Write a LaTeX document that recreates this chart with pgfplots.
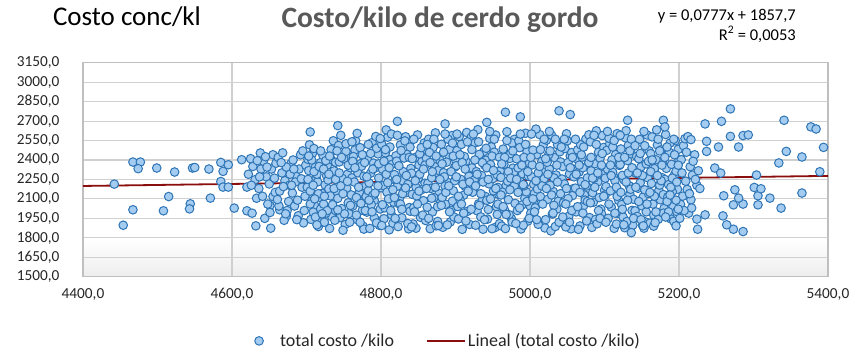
\documentclass[border=0pt]{standalone}
\usepackage{pgfplots}
\pgfplotsset{compat=1.18}
\usepackage{fontspec}
\setmainfont{Carlito}
\definecolor{ptfill}{HTML}{A4CBF0}
\definecolor{ptedge}{HTML}{2E75B6}
\definecolor{trend}{HTML}{8B0E0E}
\definecolor{gridc}{HTML}{D0D0D0}
\definecolor{framec}{HTML}{BFBFBF}
\definecolor{titlec}{HTML}{595959}
\definecolor{textc}{HTML}{262626}
\pgfdeclareverticalshading{bgshade}{100bp}{color(0bp)=(black!7); color(25bp)=(black!7); color(34bp)=(white); color(100bp)=(white)}
\pgfplotsset{trendleg/.style={legend image code/.code={\draw[##1] (0pt,0pt) -- (38pt,0pt);}},
 scatleg/.style={legend image code/.code={\path[draw=none,fill=none] (0pt,0pt) -- (38pt,0pt); \draw[mark repeat=2,mark phase=2,##1] plot coordinates {(0pt,0pt) (19pt,0pt) (38pt,0pt)};}}}
\begin{document}
\begin{tikzpicture}
\begin{axis}[
 name=ax, scale only axis, width=745pt, height=214pt,
 xmin=4400, xmax=5400, ymin=1500, ymax=3150,
 xtick={4400,4600,...,5400}, ytick={1500,1650,...,3150},
 grid=major, major grid style={gridc, line width=1.1pt},
 axis line style={framec, line width=1.4pt},
 tick style={draw=none},
 axis background/.style={shading=bgshade},
 ticklabel style={font=\fontsize{15.3}{18}\selectfont, text=textc},
 xticklabel style={yshift=-8pt,/pgf/number format/.cd, use comma, fixed, fixed zerofill, precision=1, 1000 sep={}, assume math mode=true},
 yticklabel style={xshift=-20pt,/pgf/number format/.cd, use comma, fixed, fixed zerofill, precision=1, 1000 sep={}, assume math mode=true},
 legend style={at={(0.4805,-0.3)}, anchor=center, draw=none, fill=none, legend columns=2, font=\fontsize{18}{21}\selectfont, text=textc, /tikz/every even column/.append style={column sep=30pt}},
 legend cell align=left,
]
\addplot[only marks, mark=*, mark size=4.3pt, mark options={fill=ptfill, draw=ptedge, line width=1pt}, scatleg] coordinates {
(4442,2214) (4454,1897) (4467,2384) (4477,2384) (4474,2333) (4467,2016) (4499,2338) (4515,2118) (4508,2008) (4523,2307) (4544,2062) (4543,2023) (4547,2338) (4550,2342) (4569,2330) (4571,2106) (4585,2381) (4588,2312) (4585,2234) (4588,2191) (4595,2191) (4595,2363) (4603,2029) (4620,2008) (4632,1892) (4652,1874) (4613,2402) (4620,2191) (4638,2454) (4651,2049) (4664,2016) (4673,1969) (4655,2118) (4705,2616) (4742,2665)
(4622,2290) (4628,2350) (4625,2410) (4631,2248) (4636,2180) (4639,2330) (4633,2105) (4627,1990)
(4642,2390) (4646,2270) (4650,2215) (4655,2440) (4648,2060) (4658,2150) (4653,2330) (4644,1950) (4659,2375) (4651,1995)
(4662,2420) (4667,2300) (4671,2240) (4664,2160) (4676,2080) (4679,2370) (4670,1935) (4674,2010) (4668,2455) (4677,2205) (4663,2045) (4673,2345)
(4682,2400) (4686,2275) (4690,2330) (4694,2190) (4698,2120) (4684,2045) (4689,1970) (4696,1915) (4692,2440) (4699,2360) (4685,2230) (4697,2010) (4681,2145)
(4626,2205) (4634,2395) (4641,2120) (4647,2345) (4657,2260) (4661,2095) (4666,2380) (4672,1985) (4678,2290) (4683,2330) (4688,2090) (4693,2255) (4695,2470) (4687,1940) (4680,2205) (4669,2195) (4645,2425) (4637,2270)
(4703,2318) (4716,1887) (4708,2452) (4711,2046) (4701,2190) (4719,2380) (4706,1942) (4713,2265) (4704,2517) (4718,2112) (4709,1998) (4702,2405) (4715,2231) (4707,2084) (4712,2345) (4717,1916) (4705,2160) (4710,2488) (4714,2290) (4719,2022)
(4725,2208) (4731,1872) (4722,2436) (4738,2097) (4728,2361) (4734,1963) (4721,2142) (4736,2548) (4727,2278) (4739,2010) (4733,2404) (4724,1920) (4730,2177) (4737,2316) (4723,2060) (4735,2470) (4729,2245) (4726,1990) (4732,2123) (4739,2382)
(4744,2385) (4752,1903) (4741,2156) (4758,2437) (4747,2025) (4755,2290) (4749,1858) (4743,2512) (4756,2070) (4751,2220) (4745,1955) (4759,2340) (4742,2104) (4753,2466) (4748,2258) (4757,1986) (4746,2590) (4754,2183) (4750,2410) (4760,2131)
(4762,2044) (4770,2331) (4776,1889) (4765,2477) (4779,2198) (4768,1940) (4773,2372) (4761,2262) (4778,2093) (4766,2548) (4771,2150) (4775,2012) (4763,2426) (4769,2301) (4777,1867) (4764,2230) (4772,2495) (4780,2118) (4767,1975) (4774,2352)
(4782,2409) (4791,2087) (4785,1872) (4797,2261) (4788,2534) (4783,2163) (4795,1933) (4790,2376) (4799,2022) (4786,2298) (4793,2581) (4781,1998) (4796,2447) (4789,2127) (4784,2223) (4798,1896) (4792,2338) (4787,2055) (4794,2490) (4800,2186)
(4803,2203) (4811,1861) (4806,2455) (4817,2075) (4802,2329) (4814,1978) (4809,2576) (4819,2246) (4805,2031) (4812,2402) (4816,1912) (4808,2152) (4801,2521) (4818,2287) (4810,2100) (4804,1947) (4815,2367) (4807,2632) (4813,2010) (4820,2432)
(4823,1886) (4831,2277) (4826,2516) (4838,2033) (4822,2198) (4835,2444) (4828,1954) (4840,2334) (4825,2107) (4833,2579) (4829,2240) (4837,1869) (4821,2391) (4834,2148) (4827,2473) (4839,2005) (4830,2310) (4824,2063) (4836,2212) (4832,2547)
(4842,2135) (4856,2478) (4847,1874) (4851,2360) (4844,2032) (4859,2221) (4849,2593) (4853,1958) (4841,2298) (4857,2086) (4846,2420) (4854,2170) (4843,1907) (4858,2531) (4850,2258) (4845,2000) (4855,2389) (4848,2123) (4852,2447) (4860,1933)
(4861,2412) (4869,1999) (4875,2287) (4864,2560) (4878,2142) (4866,1870) (4872,2348) (4880,2078) (4863,2220) (4870,2497) (4876,1926) (4867,2181) (4873,2609) (4862,2036) (4879,2399) (4868,2263) (4874,1892) (4865,2458) (4877,2320) (4871,2110)
(4884,2302) (4893,1922) (4881,2521) (4897,2163) (4887,2059) (4891,2436) (4883,1881) (4899,2345) (4889,2229) (4895,2588) (4882,2111) (4894,2012) (4888,2383) (4898,1960) (4885,2270) (4892,2482) (4896,2083) (4886,2199) (4890,2560) (4900,2403)
(4903,2041) (4914,2391) (4907,2251) (4919,1903) (4902,2472) (4911,2128) (4905,2580) (4917,2320) (4909,1865) (4913,2196) (4901,2356) (4916,2004) (4908,2520) (4920,2163) (4904,1945) (4912,2426) (4918,2274) (4906,2094) (4915,2612) (4910,2213)
(4922,2339) (4931,2062) (4927,1897) (4938,2465) (4924,2183) (4935,2280) (4921,2574) (4940,2119) (4929,2008) (4933,2413) (4925,2245) (4937,1866) (4926,2531) (4939,2360) (4923,2151) (4934,1961) (4930,2634) (4928,2310) (4936,2087) (4932,2443)
(4945,2216) (4953,1879) (4941,2398) (4958,2134) (4948,2501) (4955,2040) (4943,1944) (4960,2315) (4950,2256) (4946,2567) (4957,2189) (4942,2089) (4952,2460) (4959,1909) (4947,2365) (4954,2592) (4944,2018) (4956,2285) (4951,2162) (4949,2430)
(4964,2484) (4971,2094) (4977,2337) (4962,1890) (4968,2202) (4979,2559) (4966,2011) (4973,2412) (4961,2265) (4975,1948) (4969,2618) (4963,2151) (4978,2301) (4967,1871) (4974,2449) (4980,2065) (4965,2366) (4970,2236) (4976,2531) (4972,1978)
(4983,2010) (4990,2293) (4996,2465) (4981,2187) (4988,1868) (4999,2375) (4985,2548) (4993,2105) (4987,2233) (4997,1929) (4982,2409) (4994,2606) (4989,2052) (4998,2274) (4984,2339) (4991,1897) (4995,2154) (4986,2495) (4992,2201) (5000,2046)
(5003,2362) (5012,1921) (5006,2143) (5018,2520) (5002,2270) (5015,2068) (5009,2441) (5020,1876) (5005,2212) (5013,2596) (5017,2310) (5001,1990) (5010,2176) (5016,2389) (5007,2031) (5019,2256) (5004,2476) (5011,1904) (5014,2118) (5008,2638)
(5024,2097) (5033,2418) (5028,1853) (5039,2235) (5022,2553) (5036,2020) (5026,2330) (5040,2463) (5031,2158) (5021,1940) (5035,2284) (5029,2591) (5038,2082) (5023,2382) (5034,1887) (5027,2205) (5037,2517) (5030,1983) (5025,2441) (5032,2262)
(5043,2253) (5052,1966) (5047,2488) (5058,2179) (5041,2385) (5055,1869) (5049,2602) (5060,2324) (5045,2070) (5054,2431) (5042,1917) (5057,2125) (5050,2548) (5046,2215) (5059,2016) (5044,2349) (5053,2293) (5048,1884) (5056,2457) (5051,2102)
(5063,2408) (5072,2048) (5067,1891) (5078,2366) (5061,2183) (5075,2561) (5069,2232) (5080,1956) (5064,2478) (5073,2130) (5066,2307) (5079,2594) (5062,2000) (5070,2422) (5077,2262) (5065,1865) (5074,2090) (5068,2517) (5076,2199) (5071,2340)
(5084,2147) (5092,2460) (5088,1941) (5098,2289) (5081,2540) (5095,2021) (5087,2371) (5100,2167) (5083,1880) (5091,2231) (5097,2588) (5085,2074) (5094,2413) (5082,2316) (5090,1908) (5099,2497) (5086,2260) (5093,2110) (5089,2625) (5096,1985)
(5104,2330) (5113,1873) (5107,2524) (5119,2088) (5102,2195) (5115,2442) (5109,2037) (5120,2358) (5105,1950) (5112,2277) (5117,2603) (5101,2130) (5110,2401) (5116,1906) (5103,2474) (5114,2240) (5108,2162) (5118,1988) (5106,2568) (5111,2305)
(5123,2056) (5131,2395) (5126,2247) (5138,1897) (5122,2485) (5134,2136) (5128,2571) (5140,2318) (5125,1960) (5133,2202) (5121,2365) (5137,2011) (5129,2626) (5136,2448) (5124,2281) (5139,2097) (5127,1878) (5132,2512) (5135,2174) (5130,1925)
(5143,2426) (5152,2115) (5147,2559) (5158,2263) (5141,2008) (5155,1922) (5149,2347) (5160,2470) (5145,2182) (5153,1874) (5142,2298) (5157,2593) (5150,2047) (5146,2410) (5159,2141) (5144,1965) (5154,2510) (5148,2225) (5156,2370) (5151,1896)
(5163,2219) (5171,2516) (5166,1976) (5178,2382) (5162,2449) (5175,2093) (5168,2297) (5180,2027) (5164,2578) (5173,2166) (5161,1913) (5177,2264) (5169,2402) (5165,2060) (5176,2478) (5172,1942) (5167,2333) (5179,2133) (5170,2632) (5174,2206)
(5183,2335) (5192,2042) (5187,2459) (5198,2174) (5181,2250) (5195,2548) (5189,1946) (5200,2401) (5185,2116) (5194,2287) (5182,2596) (5197,2002) (5190,2366) (5186,2210) (5199,2482) (5184,2080) (5193,1928) (5188,2530) (5196,2313) (5191,2155)
(5203,2402) (5211,2173) (5206,2511) (5218,2283) (5202,2058) (5215,2348) (5209,2236) (5221,2440) (5205,2121) (5213,1990) (5226,2317) (5208,2564) (5224,2205) (5216,2093)
(4702,2250) (4707,2400) (4712,1960) (4716,2140) (4719,2470) (4705,2060) (4710,2310) (4714,1900) (4703,2430) (4709,2205) (4717,2350) (4711,2100)
(4723,2330) (4728,2010) (4733,2480) (4737,2180) (4721,1985) (4730,2290) (4735,2055) (4739,2250) (4726,2395) (4724,2120) (4731,2430) (4738,1935)
(4741,2470) (4746,2200) (4751,1985) (4756,2360) (4759,2050) (4744,2300) (4749,2140) (4753,2525) (4758,1920) (4742,2015) (4747,2420) (4755,2235)
(4762,2390) (4767,2110) (4772,1920) (4777,2275) (4761,2540) (4770,2190) (4775,2440) (4779,2010) (4765,2340) (4773,2065) (4768,2605) (4778,2380)
(4781,2270) (4786,2450) (4791,1955) (4796,2200) (4799,2565) (4784,2090) (4789,2330) (4794,1915) (4783,2520) (4788,2000) (4797,2370) (4792,2145)
(4802,2055) (4807,2290) (4812,2500) (4816,2170) (4819,1950) (4804,2390) (4809,2225) (4814,2600) (4801,1895) (4811,2340) (4818,2110) (4806,2480)
(4821,2250) (4826,2060) (4831,2415) (4836,1910) (4839,2500) (4824,2355) (4829,2140) (4834,2280) (4822,2590) (4828,2020) (4833,2185) (4838,2420)
(4842,2410) (4847,2190) (4852,2290) (4856,1975) (4859,2360) (4844,2560) (4849,2060) (4854,2495) (4841,1885) (4851,2160) (4857,2330) (4846,2240)
(4861,2180) (4866,2380) (4871,2560) (4876,2040) (4879,2250) (4864,1950) (4869,2310) (4874,2430) (4862,2520) (4868,2105) (4877,1895) (4873,2190)
(4882,2370) (4887,2150) (4892,2000) (4896,2530) (4899,2240) (4884,2460) (4889,1900) (4894,2310) (4881,2050) (4891,2200) (4897,2430) (4886,2600)
(4901,2270) (4906,2440) (4911,1990) (4916,2540) (4919,2230) (4904,2120) (4909,2380) (4914,1930) (4902,2600) (4908,2060) (4917,2160) (4913,2330)
(4922,2480) (4927,2200) (4932,2050) (4936,2380) (4939,1940) (4924,2600) (4929,2290) (4934,2140) (4921,2020) (4931,2540) (4937,2230) (4926,2400)
(4942,2340) (4947,2100) (4952,2560) (4956,1980) (4959,2420) (4944,2250) (4949,1870) (4954,2180) (4941,2490) (4951,2320) (4957,2060) (4946,2620)
(4961,2130) (4966,2420) (4971,2310) (4976,1920) (4979,2200) (4964,2040) (4969,2550) (4974,2260) (4962,2370) (4968,1980) (4977,2470) (4973,2170)
(4982,2250) (4987,2600) (4992,2420) (4996,2080) (4999,1950) (4984,2150) (4989,2360) (4994,2520) (4981,1910) (4991,2210) (4997,2310) (4986,2030)
(5001,2420) (5006,2000) (5011,2300) (5016,2200) (5019,2560) (5004,2100) (5009,1940) (5014,2480) (5002,2600) (5008,2240) (5017,2060) (5013,2350)
(5022,2180) (5027,2470) (5032,2050) (5036,2360) (5039,1920) (5024,2290) (5029,2130) (5034,2560) (5021,2410) (5031,1990) (5037,2230) (5026,2620)
(5041,2140) (5046,2560) (5051,2380) (5056,2010) (5059,2270) (5044,1960) (5049,2180) (5054,2340) (5042,2500) (5048,2060) (5057,2420) (5053,1920)
(5062,2290) (5067,2150) (5072,2500) (5076,1930) (5079,2380) (5064,2040) (5069,2440) (5074,2210) (5061,2560) (5071,1990) (5077,2080) (5066,2360)
(5082,2420) (5087,2190) (5092,2010) (5096,2360) (5099,2120) (5084,2260) (5089,2520) (5094,1950) (5081,2070) (5091,2300) (5097,2450) (5086,2590)
(5101,2260) (5106,2060) (5111,2500) (5116,2190) (5119,2420) (5104,2620) (5109,2280) (5114,1990) (5102,1920) (5108,2360) (5117,2120) (5113,2550)
(5122,2150) (5127,2420) (5132,2300) (5136,2560) (5139,1950) (5124,2020) (5129,2230) (5134,2470) (5121,2590) (5131,2090) (5137,2340) (5126,1900)
(5141,2510) (5146,2080) (5151,2280) (5156,2000) (5159,2390) (5144,2300) (5149,1940) (5154,2170) (5142,2190) (5148,2450) (5157,2060) (5153,2620)
(5162,2310) (5167,2120) (5172,2560) (5176,2240) (5179,1990) (5164,2400) (5169,2000) (5174,2470) (5161,2150) (5171,2280) (5177,2360) (5166,1890)
(5181,2420) (5186,2000) (5191,2260) (5196,2090) (5199,2360) (5184,2500) (5189,2190) (5194,2440) (5182,1960) (5188,2130) (5197,2230) (5193,2560)
(5204,2300) (5210,2460) (5214,2140) (5219,2390) (5207,2010) (5222,2250) (5212,2580) (5228,2180) (5201,1950) (5217,2030)
(4822,2698) (4886,2678) (4942,2690) (4967,2768) (4987,2732) (5039,2779) (5054,2750) (5131,2706) (5179,2706) (5181,2655)
(5269,2794) (5257,2698) (5235,2678) (5341,2706) (5377,2655) (5384,2639) (5394,2497) (5344,2466) (5365,2423) (5334,2377) (5389,2309) (5304,2284) (5365,2145) (5337,2029) (5322,2106) (5306,2124) (5306,2054) (5301,2188) (5310,2178) (5286,2060) (5286,1848) (5273,1866) (5264,1900) (5259,1969) (5275,2170) (5280,2106) (5273,2054) (5260,2124) (5280,2500) (5269,2582) (5286,2588) (5293,2593) (5253,2500) (5248,2338) (5256,2299) (5237,2544) (5237,2466) (5224,1944) (5225,1866) (5235,1977) (5196,1892) (5168,1917) (5152,1892) (5136,1840) (5199,2021) (5216,2557)
};
\addlegendentry{total costo /kilo}
\addplot[trend, line width=1.8pt, trendleg] coordinates {(4400,2199.58) (5400,2277.28)};
\addlegendentry{Lineal (total costo /kilo)}
\end{axis}
\node[font=\bfseries\fontsize{29.5}{34}\selectfont, text=titlec] at ([xshift=357pt,yshift=42.7pt]ax.north west) {Costo/kilo de cerdo gordo};
\node[font=\fontsize{27}{32}\selectfont] at ([xshift=44pt,yshift=45.7pt]ax.north west) {Costo conc/kl};
\node[font=\fontsize{16.5}{20}\selectfont, align=right, anchor=north east, inner sep=0pt] at ([xshift=713pt,yshift=54pt]ax.north west) {y = 0,0777x + 1857,7\\R\textsuperscript{2} = 0,0053};
\pgfresetboundingbox
\path[use as bounding box] ([xshift=-83pt,yshift=-79.3pt]ax.south west) rectangle ([xshift=33pt,yshift=62.7pt]ax.north east);
\end{tikzpicture}
\end{document}
